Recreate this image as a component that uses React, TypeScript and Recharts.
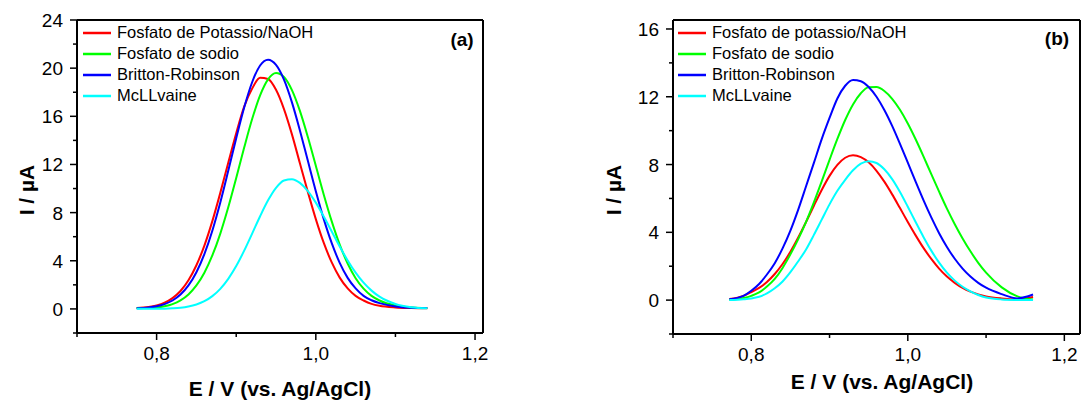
import React from "react";
import {
  Label,
  Legend,
  Line,
  LineChart,
  ReferenceLine,
  XAxis,
  YAxis,
} from "recharts";

const FONT = '"Liberation Sans", Arial, Helvetica, sans-serif';

// (a) potencial (V) e corrente (µA)
const potentialA = [
  0.775, 0.79, 0.8, 0.81, 0.82, 0.83, 0.84, 0.85, 0.86, 0.87, 0.88, 0.89, 0.9,
  0.91, 0.92, 0.93, 0.94, 0.95, 0.96, 0.97, 0.98, 0.99, 1.0, 1.01, 1.02, 1.03,
  1.04, 1.05, 1.06, 1.07, 1.08, 1.1, 1.12, 1.14,
];
const potassioA = [
  0.08, 0.16, 0.29, 0.52, 0.9, 1.49, 2.38, 3.63, 5.26, 7.29, 9.64, 12.15, 14.6,
  16.8, 18.3, 19.2, 19.1, 18.2, 16.6, 14.5, 12.1, 9.72, 7.46, 5.48, 3.86, 2.6,
  1.7, 1.08, 0.7, 0.42, 0.26, 0.12, 0.07, 0.05,
];
const sodioA = [
  0.08, 0.08, 0.12, 0.22, 0.4, 0.71, 1.2, 1.95, 3.01, 4.44, 6.26, 8.44, 10.88,
  13.4, 15.77, 17.74, 19.07, 19.6, 19.27, 18.18, 16.45, 14.28, 11.89, 9.49,
  7.27, 5.34, 3.77, 2.55, 1.68, 1.08, 0.7, 0.28, 0.12, 0.07,
];
const brittonA = [
  0.06, 0.12, 0.22, 0.4, 0.7, 1.19, 1.95, 3.05, 4.56, 6.5, 8.84, 11.47, 14.18,
  16.73, 18.83, 20.22, 20.7, 20.27, 19.05, 17.16, 14.83, 12.3, 9.78, 7.46, 5.46,
  3.83, 2.58, 1.7, 1.08, 0.72, 0.48, 0.2, 0.1, 0.07,
];
const mcllvaineA = [
  0.01, 0.01, 0.01, 0.02, 0.05, 0.1, 0.2, 0.37, 0.64, 1.06, 1.67, 2.5, 3.56,
  4.84, 6.26, 7.7, 9.02, 10.06, 10.67, 10.78, 10.47, 9.79, 8.83, 7.67, 6.43,
  5.18, 4.03, 3.02, 2.18, 1.52, 1.02, 0.41, 0.14, 0.05,
];

// (b)
const potentialB = [
  0.772, 0.79, 0.8, 0.81, 0.82, 0.83, 0.84, 0.85, 0.86, 0.87, 0.88, 0.89, 0.9,
  0.91, 0.92, 0.93, 0.94, 0.95, 0.96, 0.97, 0.98, 0.99, 1.0, 1.01, 1.02, 1.03,
  1.04, 1.05, 1.06, 1.07, 1.08, 1.09, 1.1, 1.12, 1.14, 1.16,
];
const potassioB = [
  0.06, 0.25, 0.47, 0.72, 1.07, 1.54, 2.13, 2.85, 3.69, 4.61, 5.57, 6.5, 7.33,
  7.98, 8.4, 8.55, 8.44, 8.13, 7.63, 6.99, 6.24, 5.43, 4.61, 3.82, 3.08, 2.43,
  1.86, 1.39, 1.02, 0.72, 0.5, 0.34, 0.22, 0.1, 0.05, 0.18,
];
const sodioB = [
  0.02, 0.12, 0.25, 0.45, 0.8, 1.25, 1.9, 2.7, 3.6, 4.62, 5.77, 7.01, 8.28,
  9.51, 10.63, 11.55, 12.21, 12.56, 12.57, 12.34, 11.88, 11.23, 10.42, 9.49,
  8.48, 7.43, 6.4, 5.4, 4.48, 3.64, 2.88, 2.2, 1.62, 0.75, 0.22, 0.03,
];
const brittonB = [
  0.05, 0.25, 0.55, 0.95, 1.51, 2.18, 3.05, 4.1, 5.34, 6.72, 8.1, 9.5, 10.75,
  11.9, 12.65, 12.99, 12.92, 12.58, 12.0, 11.22, 10.28, 9.22, 8.11, 6.99, 5.9,
  4.88, 3.95, 3.14, 2.44, 1.86, 1.39, 1.02, 0.73, 0.35, 0.1, 0.33,
];
const mcllvaineB = [
  0.0, 0.05, 0.1, 0.2, 0.4, 0.7, 1.1, 1.65, 2.29, 2.99, 3.85, 4.75, 5.65, 6.45,
  7.1, 7.66, 8.05, 8.2, 8.09, 7.72, 7.14, 6.38, 5.51, 4.61, 3.73, 2.92, 2.21,
  1.62, 1.15, 0.79, 0.52, 0.3, 0.15, 0.04, 0.01, 0.0,
];

const xTicks = [0.7, 0.8, 0.9, 1.0, 1.1, 1.2];
const yTicksA = [-2, 0, 2, 4, 6, 8, 10, 12, 14, 16, 18, 20, 22, 24];
const yTicksB = [-2, 0, 2, 4, 6, 8, 10, 12, 14, 16];

const legendA = [
  "Fosfato de Potassio/NaOH",
  "Fosfato de sodio",
  "Britton-Robinson",
  "McLLvaine",
];
const legendB = [
  "Fosfato de potassio/NaOH",
  "Fosfato de sodio",
  "Britton-Robinson",
  "McLLvaine",
];

const KEYS = ["potassio", "sodio", "britton", "mcllvaine"];
const COLORS = ["#ff0000", "#00ff00", "#0000ff", "#00ffff"];

const toRows = (x: number[], series: number[][]) =>
  x.map((e, i) => {
    const row: Record<string, number> = { e };
    KEYS.forEach((k, j) => (row[k] = series[j][i]));
    return row;
  });

const dataA = toRows(potentialA, [potassioA, sodioA, brittonA, mcllvaineA]);
const dataB = toRows(potentialB, [potassioB, sodioB, brittonB, mcllvaineB]);

const AXIS = { stroke: "#000", strokeWidth: 2 };
const fmt = (v: number) => v.toFixed(1).replace(".", ",");

// ticks maiores com rótulo, menores só com traço
const XTick = ({ x, y, payload }: any) => {
  const major = Math.round(payload.value * 10) % 2 === 0;
  return (
    <g>
      <line x1={x} y1={y} x2={x} y2={y + (major ? 7 : 4)} stroke="#000" strokeWidth={1.5} />
      {major && (
        <text x={x} y={y + 27} textAnchor="middle" fontSize={19} fontFamily={FONT} fill="#000">
          {fmt(payload.value)}
        </text>
      )}
    </g>
  );
};

const YTick = ({ x, y, payload }: any) => {
  const major = payload.value % 4 === 0;
  return (
    <g>
      <line x1={x} y1={y} x2={x - (major ? 7 : 4)} y2={y} stroke="#000" strokeWidth={1.5} />
      {major && (
        <text x={x - 14} y={y + 7} textAnchor="end" fontSize={19} fontFamily={FONT} fill="#000">
          {payload.value}
        </text>
      )}
    </g>
  );
};

// legenda na ordem das séries (o Recharts ordena por nome)
const renderLegend = ({ payload }: any) => {
  const items = [...(payload || [])].sort(
    (a: any, b: any) => KEYS.indexOf(a.dataKey) - KEYS.indexOf(b.dataKey)
  );
  return (
    <div style={{ fontFamily: FONT, fontSize: 16.5, color: "#000" }}>
      {items.map((item: any) => (
        <div
          key={item.value}
          style={{ display: "flex", alignItems: "center", height: 21, whiteSpace: "nowrap" }}
        >
          <svg width={28} height={4} style={{ marginRight: 6 }}>
            <line x1={0} y1={2} x2={28} y2={2} stroke={item.color} strokeWidth={2.5} />
          </svg>
          <span>{item.value}</span>
        </div>
      ))}
    </div>
  );
};

interface PanelProps {
  data: Record<string, number>[];
  names: string[];
  tag: string;
  width: number;
  xMax: number;
  yMax: number;
  yTicks: number[];
  yAxisWidth: number;
  xAxisHeight: number;
  marginRight: number;
  xTitle: [number, number];
  yTitle: [number, number];
  tagPos: [number, number];
  legendLeft: number;
}

const Panel: React.FC<PanelProps> = (p) => (
  <LineChart
    width={p.width}
    height={400}
    data={p.data}
    margin={{ top: 20, right: p.marginRight, bottom: 0, left: 0 }}
    style={{ fontFamily: FONT }}
  >
    <XAxis
      dataKey="e"
      type="number"
      domain={[0.7, p.xMax]}
      allowDataOverflow
      ticks={xTicks}
      interval={0}
      tick={XTick}
      tickLine={false}
      tickSize={0}
      tickMargin={0}
      axisLine={AXIS}
      height={p.xAxisHeight}
    >
      <Label
        content={() => (
          <text
            x={p.xTitle[0]}
            y={p.xTitle[1]}
            textAnchor="middle"
            fontSize={21}
            fontWeight="bold"
            fontFamily={FONT}
            fill="#000"
          >
            E / V (vs. Ag/AgCl)
          </text>
        )}
      />
    </XAxis>
    <YAxis
      type="number"
      domain={[-2, p.yMax]}
      allowDataOverflow
      ticks={p.yTicks}
      interval={0}
      tick={YTick}
      tickLine={false}
      tickSize={0}
      tickMargin={0}
      axisLine={AXIS}
      width={p.yAxisWidth}
    >
      <Label
        content={() => (
          <text
            x={p.yTitle[0]}
            y={p.yTitle[1]}
            transform={`rotate(-90 ${p.yTitle[0]} ${p.yTitle[1]})`}
            textAnchor="middle"
            fontSize={21}
            fontWeight="bold"
            fontFamily={FONT}
            fill="#000"
          >
            I / µA
          </text>
        )}
      />
    </YAxis>
    {/* moldura superior e direita */}
    <ReferenceLine y={p.yMax} stroke="#000" strokeWidth={2}>
      <Label
        content={() => (
          <text
            x={p.tagPos[0]}
            y={p.tagPos[1]}
            textAnchor="middle"
            fontSize={19}
            fontWeight="bold"
            fontFamily={FONT}
            fill="#000"
          >
            {p.tag}
          </text>
        )}
      />
    </ReferenceLine>
    <ReferenceLine x={p.xMax} stroke="#000" strokeWidth={2} />
    <Legend
      layout="vertical"
      align="center"
      verticalAlign="middle"
      content={renderLegend}
      wrapperStyle={{ left: p.legendLeft, top: 22, width: "auto" }}
    />
    {KEYS.map((k, i) => (
      <Line
        key={k}
        dataKey={k}
        name={p.names[i]}
        type="monotone"
        stroke={COLORS[i]}
        strokeWidth={2}
        dot={false}
        activeDot={false}
        isAnimationActive={false}
      />
    ))}
  </LineChart>
);

export default function App() {
  return (
    <div
      style={{
        position: "absolute",
        left: 0,
        top: 0,
        width: 1089,
        height: 400,
        background: "#fff",
      }}
    >
      <div style={{ position: "absolute", left: 0, top: 0 }}>
        <Panel
          data={dataA}
          names={legendA}
          tag="(a)"
          width={545}
          xMax={1.21}
          yMax={24}
          yTicks={yTicksA}
          yAxisWidth={77}
          xAxisHeight={67}
          marginRight={62}
          xTitle={[280, 396]}
          yTitle={[34, 190]}
          tagPos={[462, 46]}
          legendLeft={83}
        />
      </div>
      <div style={{ position: "absolute", left: 545, top: 0 }}>
        <Panel
          data={dataB}
          names={legendB}
          tag="(b)"
          width={544}
          xMax={1.22}
          yMax={16.53}
          yTicks={yTicksB}
          yAxisWidth={128}
          xAxisHeight={66}
          marginRight={9}
          xTitle={[337, 389]}
          yTitle={[76, 190]}
          tagPos={[512, 45]}
          legendLeft={133}
        />
      </div>
    </div>
  );
}
